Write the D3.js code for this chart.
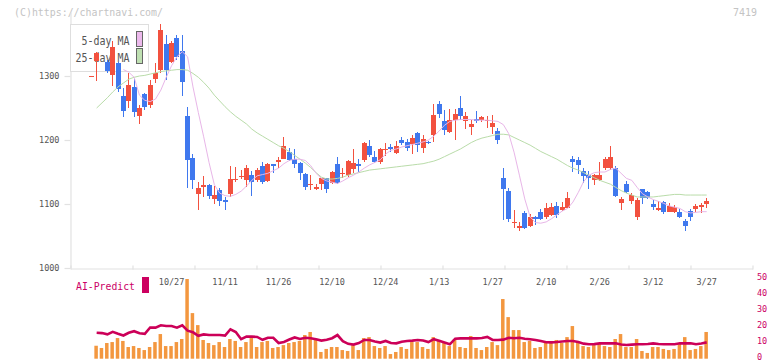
<!DOCTYPE html>
<html><head><meta charset="utf-8">
<script src="https://cdn.jsdelivr.net/npm/d3@7"></script>
<style>body{margin:0;background:#fff}svg{display:block}text{font-family:"DejaVu Sans Mono",monospace}</style>
</head><body><svg id="c" width="772" height="361"></svg>
<script>
const openP=[1300,1324,null,1322,1302,1320,1268,1261,1283,1238,1272,1255,1295,1309,1350,1322,1359,1339,1237,1172,1116,1126,1130,1108,1122,1106,1116,1137,1142,1138,1145,1138,1159,1136,1162,1166,1171,1182,1171,1164,1147,1129,1124,1131,1140,1133,1162,1147,1145,1155,1162,1169,1190,1173,1166,1185,1189,1180,1200,1197,1194,1211,1187,1197,1208,1256,1230,1212,1231,1250,1230,1220,1233,1231,1231,1221,1214,1141,1120,1070,1063,1086,1066,1079,1087,1079,1083,1097,1091,1094,1170,1169,1152,1145,1138,1138,1157,1157,1157,1102,1131,1105,1079,1123,1119,1100,1091,1103,1088,1088,1087,1073,1089,1092,1096,1100];
const highP=[1300,1337,null,1325,1354,1322,1281,1304,1295,1255,1274,1294,1320,1381,1364,1355,1364,1364,1251,1178,1135,1144,1131,1128,1125,1111,1159,1158,1153,1161,1152,1156,1166,1164,1163,1174,1204,1187,1186,1165,1148,1145,1131,1141,1141,1152,1174,1157,1168,1186,1170,1197,1200,1183,1187,1196,1194,1199,1204,1201,1208,1213,1208,1198,1256,1261,1247,1248,1248,1268,1243,1231,1245,1238,1238,1239,1219,1157,1125,1091,1072,1089,1084,1081,1092,1102,1102,1103,1103,1118,1175,1174,1156,1152,1147,1165,1174,1190,1160,1111,1136,1117,1109,1124,1121,1106,1105,1105,1101,1099,1092,1076,1092,1100,1102,1110];
const lowP=[1300,1292,null,1305,1283,1275,1236,1250,1236,1226,1247,1250,1289,1305,1293,1320,1325,1268,1125,1123,1091,1111,1108,1100,1097,1091,1111,1135,1139,1127,1113,1134,1131,1134,1149,1157,1169,1166,1156,1137,1122,1122,1121,1122,1118,1132,1132,1142,1142,1148,1150,1165,1174,1165,1162,1175,1182,1179,1192,1183,1178,1182,1180,1194,1197,1234,1208,1210,1199,1231,1216,1208,1227,1229,1220,1210,1194,1075,1072,1063,1058,1061,1063,1067,1075,1077,1081,1078,1089,1093,1150,1147,1133,1124,1130,1136,1153,1152,1111,1091,1117,1100,1075,1100,1108,1091,1090,1085,1087,1087,1078,1057,1074,1088,1087,1094];
const closeP=[1300,1336,null,1308,1346,1279,1246,1286,1243,1250,1252,1286,1305,1372,1309,1351,1329,1291,1169,1137,1125,1130,1112,1114,1104,1103,1139,1139,1144,1156,1135,1153,1135,1162,1159,1169,1191,1169,1162,1149,1127,1131,1127,1140,1124,1150,1133,1149,1167,1164,1159,1196,1177,1166,1186,1186,1186,1190,1195,1188,1203,1192,1201,1195,1239,1241,1216,1232,1241,1237,1237,1225,1230,1236,1232,1227,1200,1123,1077,1072,1065,1063,1079,1076,1077,1094,1096,1083,1096,1110,1166,1161,1144,1141,1145,1146,1170,1174,1112,1108,1119,1114,1106,1110,1110,1096,1093,1087,1097,1096,1079,1066,1079,1097,1098,1105];
const ma5=[null,null,null,null,null,null,1310,1306,1298,1270,1262,1260,1264,1278,1298,1316,1330,1338,1330,1283,1243,1205,1165,1130,1117,1113,1112,1115,1120,1128,1137,1144,1146,1148,1152,1156,1163,1168,1170,1170,1168,1160,1148,1140,1136,1134,1132,1136,1141,1145,1150,1156,1161,1165,1169,1178,1184,1186,1189,1191,1193,1195,1197,1200,1206,1214,1223,1229,1231,1232,1232,1232,1231,1231,1231,1230,1229,1224,1210,1181,1145,1108,1080,1071,1070,1072,1077,1083,1089,1093,1103,1118,1135,1145,1149,1150,1150,1154,1156,1148,1140,1137,1126,1116,1111,1107,1104,1101,1097,1095,1093,1088,1086,1087,1088,1088];
const ma25=[null,1250,1258,1266,1275,1283,1289,1295,1298,1300,1301,1303,1305,1307,1308,1309,1310,1310,1309,1304,1298,1290,1281,1270,1261,1252,1244,1237,1231,1225,1217,1211,1206,1201,1196,1191,1187,1182,1176,1170,1164,1157,1149,1142,1139,1139,1140,1142,1145,1147,1149,1151,1153,1154,1155,1156,1157,1158,1159,1160,1161,1162,1163,1165,1167,1170,1174,1178,1182,1186,1191,1196,1200,1203,1205,1207,1209,1209,1208,1204,1200,1196,1192,1187,1182,1178,1174,1170,1165,1160,1156,1153,1149,1145,1141,1137,1134,1131,1126,1121,1117,1114,1111,1111,1111,1111,1112,1113,1114,1115,1115,1114,1114,1114,1114,1114];
const volume=[0,8.1,6.7,9.8,10.4,12.9,11.1,7.3,7.9,6.7,5.4,7.3,10.4,15.4,7.9,7.9,10.4,12.3,49.8,28.5,21,11.7,9.8,8.5,10.4,7.3,12.3,11.1,7.3,10.4,12.9,7.3,10.4,11.1,6.7,7.3,8.5,9.8,10.4,11.1,14.8,16.7,12.3,4.2,6.1,7.3,7.3,5.4,4.8,8.5,5.4,12.9,13.5,7.9,6.7,7.9,2.9,4.2,7.3,6.1,10.4,10.4,7.3,6.1,13.5,11.1,9.8,7.9,12.3,7.3,6.7,14.2,6.7,5.4,7.3,10.4,8.5,37.3,26,17.9,17.9,10.4,11.1,6.7,7.3,10.4,9.8,11.7,9.8,13.5,20.4,9.8,7.9,7.3,8.5,9.8,7.9,7.3,12.3,15.4,7.3,7.3,12.3,4.8,3.6,7.3,7.3,6.1,5.4,6.1,9.8,13.5,5.4,6.1,7.9,16.7];
const aiPredict=[null,16.2,16.0,15.2,16.8,15.6,14.5,16.2,17.2,15.9,15.5,19.5,19.4,20.9,20.4,20.4,19.4,20.9,17.5,16.5,14.3,15.2,14.8,14.8,14.8,14.4,18.4,16.7,12.2,13.8,13.8,13.6,11.8,13.1,13.1,9.8,10.5,12.0,13.3,12.3,13.1,12.8,12.1,11.3,11.8,12.8,14.8,11.0,9.3,8.8,9.8,11.7,11.7,10.8,10.1,11.1,9.8,9.6,10.6,11.1,11.3,11.7,11.4,10.4,12.2,11.2,10.1,9.0,12.5,12.7,12.7,12.7,12.7,12.9,13.6,11.7,11.7,11.9,13.1,12.8,13.1,12.5,12.2,11.7,11.1,10.3,10.2,10.4,10.8,11.1,11.1,10.4,9.4,9.0,9.1,9.6,9.6,9.6,9.6,8.9,8.6,8.8,9.0,9.0,9.2,9.6,9.2,9.0,9.0,9.0,9.6,9.6,9.6,9.0,9.5,10.2];
const dateLabels=["10/27","11/11","11/26","12/10","12/24","1/13","1/27","2/10","2/26","3/12","3/27"];
const dateLabelIdx=[15,25,35,45,55,65,75,85,95,105,115];
const priceTicks=[1000,1100,1200,1300];
const aiTicks=[0,10,20,30,40,50];

const svg=d3.select("#c");
const idx=d3.range(openP.length);
const x=d3.scaleLinear().domain([0,115]).range([91.3,706.7]);
const y=d3.scaleLinear().domain([1000,1400]).range([268,12]);
const yv=d3.scaleLinear().domain([0,50]).range([358.7,278.7]);
const grid=d3.scaleLinear().domain([0,11]).range([70.5,752.5]);
const RED="#f2513f",BLUE="#3f78ee";

svg.append("text").attr("x",14).attr("y",16).attr("font-size",11).attr("fill","#c4c4c4")
  .attr("textLength",149).attr("lengthAdjust","spacingAndGlyphs").text("(C)https://chartnavi.com/");
svg.append("text").attr("x",733).attr("y",16).attr("font-size",11).attr("fill","#c4c4c4")
  .attr("textLength",24).attr("lengthAdjust","spacingAndGlyphs").text("7419");

const gy=svg.append("g").attr("transform","translate(70.5,0)")
  .call(d3.axisLeft(y).tickValues(priceTicks).tickSize(6).tickSizeOuter(0).tickPadding(5).tickFormat(d3.format("d")));
const gx=svg.append("g").attr("transform","translate(0,268.5)")
  .call(d3.axisBottom(grid).ticks(11).tickSize(-3).tickSizeOuter(0).tickFormat(""));
[gy,gx].forEach(g=>{g.selectAll("path,line").attr("stroke","#e2e2e2").attr("stroke-width",1.2);
  g.selectAll("text").attr("font-size",8.5).attr("fill","#555").attr("font-family","DejaVu Sans Mono");});
gx.selectAll(".tick line").attr("y2",-3).attr("y1",1);

svg.append("rect").attr("x",70.5).attr("y",24.5).attr("width",78).attr("height",47).attr("fill","#fff").attr("stroke","#dedede");
svg.append("text").attr("x",129.5).attr("y",45).attr("text-anchor","end").attr("font-size",12.5).attr("fill","#555")
  .attr("textLength",48).attr("lengthAdjust","spacingAndGlyphs").text("5-day MA");
svg.append("text").attr("x",129.5).attr("y",61.5).attr("text-anchor","end").attr("font-size",12.5).attr("fill","#555")
  .attr("textLength",54).attr("lengthAdjust","spacingAndGlyphs").text("25-day MA");
svg.append("rect").attr("x",136.5).attr("y",31.5).attr("width",6).attr("height",15).attr("fill","#ecb9ec").attr("stroke","#666");
svg.append("rect").attr("x",136.5).attr("y",48.5).attr("width",6).attr("height",15).attr("fill","#bfe0b2").attr("stroke","#666");

const cg=svg.append("g").attr("shape-rendering","crispEdges");
idx.filter(i=>openP[i]!=null).forEach(i=>{
  const up=closeP[i]>=openP[i], col=up?RED:BLUE;
  const bx=Math.round(x(i)-2.5);
  cg.append("rect").attr("x",bx+2).attr("width",1)
    .attr("y",Math.round(y(highP[i]))).attr("height",Math.max(1,Math.round(y(lowP[i])-y(highP[i])))).attr("fill",col);
  const top=Math.round(y(Math.max(openP[i],closeP[i]))), bot=Math.round(y(Math.min(openP[i],closeP[i])));
  cg.append("rect").attr("x",bx).attr("width",5).attr("y",top).attr("height",Math.max(1,bot-top)).attr("fill",col);
});

const line=d3.line().defined(d=>d[1]!=null).x(d=>x(d[0])).y(d=>y(d[1]));
svg.append("path").attr("d",line(idx.map(i=>[i,ma25[i]]))).attr("fill","none").attr("stroke","#b9dca9").attr("stroke-width",1);
svg.append("path").attr("d",line(idx.map(i=>[i,ma5[i]]))).attr("fill","none").attr("stroke","#e8b6e8").attr("stroke-width",1);

svg.append("g").selectAll("text").data(dateLabelIdx).join("text")
  .attr("x",d=>x(d)).attr("y",284.5).attr("text-anchor","middle").attr("font-size",8.5).attr("fill","#555")
  .text((d,k)=>dateLabels[k]);

svg.append("g").selectAll("rect").data(idx.filter(i=>volume[i]>0)).join("rect")
  .attr("x",i=>x(i)-2.3).attr("width",3.5).attr("y",i=>yv(volume[i])).attr("height",i=>yv(0)-yv(volume[i]))
  .attr("fill","#f3973f");

const aline=d3.line().defined(d=>d[1]!=null).x(d=>x(d[0])).y(d=>yv(d[1]));
svg.append("path").attr("d",aline(idx.map(i=>[i,aiPredict[i]]))).attr("fill","none").attr("stroke","#cc0058")
  .attr("stroke-width",2.6).attr("stroke-linejoin","miter");
const ga=svg.append("g").attr("transform","translate(757,-1.5)")
  .call(d3.axisRight(yv).tickValues(aiTicks).tickSize(0).tickPadding(0));
ga.select(".domain").remove();
ga.selectAll("text").attr("font-size",8.5).attr("fill","#cc0066").attr("font-family","DejaVu Sans Mono");
svg.append("text").attr("x",76).attr("y",290).attr("font-size",11).attr("fill","#cc0066")
  .attr("textLength",59).attr("lengthAdjust","spacingAndGlyphs").text("AI-Predict");
svg.append("rect").attr("x",142).attr("y",277).attr("width",7).attr("height",16).attr("fill","#cc0060");
</script></body></html>
